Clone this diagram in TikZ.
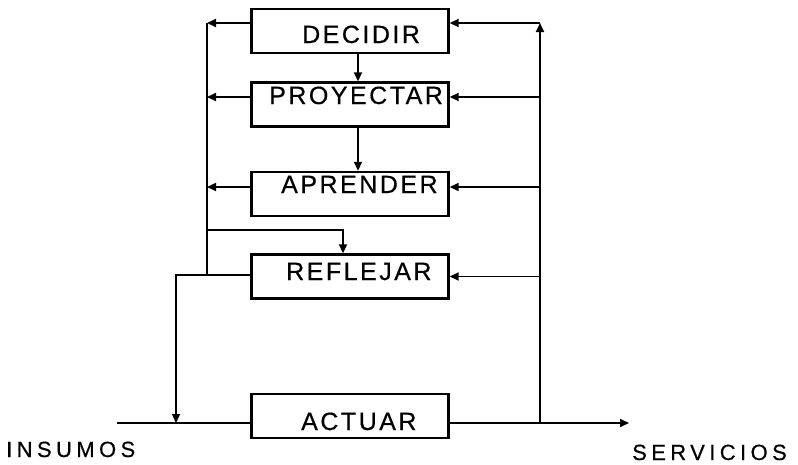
\documentclass[tikz,border=0pt]{standalone}
\usepackage{fontspec}
\usetikzlibrary{arrows.meta}
\newfontfamily\boxfont[LetterSpace=10,FakeBold=0.5]{Liberation Sans}
\newfontfamily\endfont[LetterSpace=20,FakeBold=0.4]{Liberation Sans}
\begin{document}
\begin{tikzpicture}[x=1pt,y=-1pt,
  stage/.style={draw, line width=2.4pt, rectangle, minimum width=197pt,
                minimum height=44pt, inner sep=0pt},
  boxlabel/.style={anchor=base west, inner sep=0pt,
                   font=\boxfont\fontsize{25}{30}\selectfont},
  endlabel/.style={anchor=base west, inner sep=0pt,
                   font=\endfont\fontsize{22}{26}\selectfont},
  wire/.style={line width=1.8pt},
  arr/.style={wire, -{Triangle[length=9pt,width=8pt]}}]
\useasboundingbox (0,0) rectangle (798,464);

% stages
\node[stage] (dec)  at (350,31)    {};
\node[stage] (pro)  at (350,104.5) {};
\node[stage] (apr)  at (350,194)   {};
\node[stage] (refl) at (350,276.5) {};
\node[stage] (act)  at (350,416)   {};

% stage names
\node[boxlabel] (tdec)  at (302,43)  {DECIDIR};
\node[boxlabel] (tpro)  at (269,104) {PROYECTAR};
\node[boxlabel] (tapr)  at (281,193) {APRENDER};
\node[boxlabel] (trefl) at (286,280) {REFLEJAR};
\node[boxlabel] (tact)  at (301,430) {ACTUAR};

% input / output
\node[endlabel] (tin)  at (6,457)   {INSUMOS};
\node[endlabel] (tout) at (632,460) {SERVICIOS};

% bus positions
\coordinate (lbus) at (207,0);
\coordinate (rbus) at (540,0);
\coordinate (drop) at (176,0);
\coordinate (cx)   at (358,0);
\coordinate (br)   at (343,230);
\coordinate (in)   at (117,423);
\coordinate (out)  at (629,423);

% main flow
\draw[wire] (in) -- ([yshift=-7pt]act.west);
\draw[arr] ([yshift=-7pt]act.east) -- (out);

% downward chain
\draw[arr] (dec.south -| cx) -- (pro.north -| cx);
\draw[arr] (pro.south -| cx) -- (apr.north -| cx);

% outputs to the left bus
\draw[arr] ([yshift=8pt]dec.west) -- ([yshift=8pt]dec.west -| lbus);
\draw[arr] ([yshift=7.5pt]pro.west) -- ([yshift=7.5pt]pro.west -| lbus);
\draw[arr] ([yshift=7pt]apr.west) -- ([yshift=7pt]apr.west -| lbus);
\draw[wire] ([yshift=8pt]dec.west -| lbus) -- ([yshift=1.5pt]refl.west -| lbus);
\draw[arr] (br -| lbus) -| (br |- refl.north);

% reflection back into the input
\draw[wire, line width=1.3pt, -{Triangle[length=9pt,width=8pt]}]
  ([yshift=1.5pt]refl.west) -| ([yshift=-7pt]act.west -| drop);

% feedback from the output
\draw[arr] ([yshift=-7pt]act.east -| rbus) -- ([yshift=8pt]dec.east -| rbus);
\draw[arr] ([yshift=8pt]dec.east -| rbus) -- ([yshift=8pt]dec.east);
\draw[arr] ([yshift=7.5pt]pro.east -| rbus) -- ([yshift=7.5pt]pro.east);
\draw[arr] ([yshift=7pt]apr.east -| rbus) -- ([yshift=7pt]apr.east);
\draw[arr] (refl.east -| rbus) -- (refl.east);
\end{tikzpicture}
\end{document}
